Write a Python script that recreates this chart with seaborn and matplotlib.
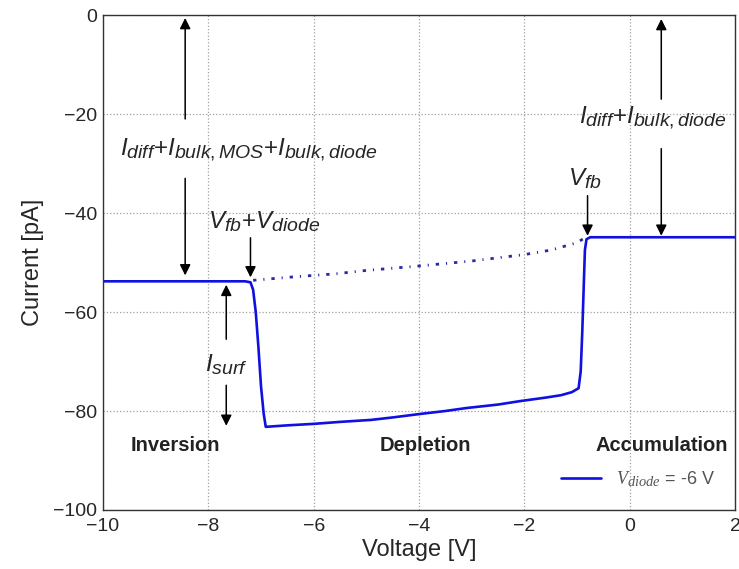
import matplotlib
matplotlib.use("Agg")
import matplotlib.pyplot as plt
import matplotlib._mathtext as _mt
import seaborn as sns
import pandas as pd

# Measured curve (V_diode = -6 V)
voltage = [-10, -7.3, -7.2, -7.15, -7.1, -7.05, -7.0, -6.95, -6.91, -6.5, -6.0, -5.5, -4.91,
           -4.5, -3.98, -3.5, -3.1, -2.5, -2.08, -1.6, -1.3, -1.1, -0.97, -0.93, -0.9,
           -0.87, -0.85, -0.82, -0.75, 0, 2]
current = [-53.8, -53.8, -54.0, -55.5, -60.0, -67.0, -75.0, -80.5, -83.2, -82.9, -82.6, -82.2, -81.8,
           -81.3, -80.6, -80.0, -79.4, -78.7, -78.0, -77.3, -76.8, -76.2, -75.4, -72.0, -64.0,
           -54.0, -47.5, -45.3, -44.9, -44.9, -44.9]

# Ideal (dash-dot) curve without surface current
voltage_ideal = [-7.15, -6.5, -6.0, -5.6, -5.0, -4.0, -3.0, -2.0, -1.5, -1.0, -0.85]
current_ideal = [-53.6, -53.0, -52.6, -52.3, -51.6, -50.7, -49.7, -48.4, -47.5, -46.0, -45.0]

x_ticks = [-10, -8, -6, -4, -2, 0, 2]
y_ticks = [-100, -80, -60, -40, -20, 0]

_mt.SHRINK_FACTOR = 0.8

sns.set_style("white")
plt.rcParams['font.family'] = ['Liberation Sans', 'DejaVu Sans']
plt.rcParams['mathtext.fontset'] = 'custom'
plt.rcParams['mathtext.it'] = 'Liberation Sans:italic'
plt.rcParams['mathtext.rm'] = 'Liberation Sans'
plt.rcParams['mathtext.sf'] = 'Liberation Serif:italic'

fig = plt.figure(figsize=(7.39, 5.69), dpi=100)
ax = fig.add_axes([0.1394, 0.1037, 0.8552, 0.8699])

df = pd.DataFrame({"V": voltage, "I": current})
df2 = pd.DataFrame({"V": voltage_ideal, "I": current_ideal})

sns.lineplot(data=df, x="V", y="I", ax=ax, color="#1010e0", lw=1.9, sort=False,
             label=r"$\mathsf{V_{diode}}$ = -6 V")
sns.lineplot(data=df2, x="V", y="I", ax=ax, color="#2a2aa8", lw=2.0, sort=False,
             linestyle=(0, (1.2, 2.5, 0.4, 2.5)), legend=False)

ax.set_xlim(-10, 2)
ax.set_ylim(-100, 0)
ax.set_xticks(x_ticks)
ax.set_yticks(y_ticks)
ax.tick_params(direction='in', length=5, labelsize=14, color='#333333')
ax.tick_params(axis='x', pad=6)
ax.tick_params(axis='y', pad=4)
ax.grid(True, linestyle=':', color='#a0a0a0', lw=0.9)
for s in ax.spines.values():
    s.set_color('#333333')
    s.set_linewidth(1.0)
ax.set_xlabel("Voltage [V]", fontsize=17, labelpad=3)
ax.set_ylabel("Current [pA]", fontsize=17, labelpad=7)

arrow = dict(arrowstyle='-|>', color='black', lw=1.1, mutation_scale=16, shrinkA=0, shrinkB=0)

# Left big label
ax.text(-9.68, -27.3, r"$I_{diff}$+$I_{bulk,MOS}$+$I_{bulk,diode}$", fontsize=17.5, va='center', ha='left')
ax.annotate("", xy=(-8.44, -0.6), xytext=(-8.44, -21), arrowprops=arrow)
ax.annotate("", xy=(-8.44, -52.6), xytext=(-8.44, -33), arrowprops=arrow)

# Vfb+Vdiode
ax.text(-8.0, -41.8, r"$V_{fb}$+$V_{diode}$", fontsize=17.5, va='center', ha='left')
ax.annotate("", xy=(-7.2, -53.0), xytext=(-7.2, -45), arrowprops=arrow)

# I_surf
ax.text(-7.66, -70.7, r"$I_{surf}$", fontsize=17.5, va='center', ha='center')
ax.annotate("", xy=(-7.66, -54.5), xytext=(-7.66, -65.5), arrowprops=arrow)
ax.annotate("", xy=(-7.66, -83.0), xytext=(-7.66, -74.8), arrowprops=arrow)

# V_fb
ax.text(-0.85, -33.0, r"$V_{fb}$", fontsize=17.5, va='center', ha='center')
ax.annotate("", xy=(-0.8, -44.6), xytext=(-0.8, -36.5), arrowprops=arrow)

# right label
ax.text(-0.97, -20.8, r"$I_{diff}$+$I_{bulk,diode}$", fontsize=17.5, va='center', ha='left')
ax.annotate("", xy=(0.6, -0.8), xytext=(0.6, -17), arrowprops=arrow)
ax.annotate("", xy=(0.6, -44.6), xytext=(0.6, -27), arrowprops=arrow)

# Region labels
ax.text(-8.63, -87.0, "Inversion", fontsize=14.5, fontweight='bold', ha='center', va='center', color='#222222')
ax.text(-3.87, -87.0, "Depletion", fontsize=14.5, fontweight='bold', ha='center', va='center', color='#222222')
ax.text(0.6, -87.0, "Accumulation", fontsize=14.5, fontweight='bold', ha='center', va='center', color='#222222')

leg = ax.legend(loc='lower right', frameon=False, fontsize=13, handlelength=2.2,
                bbox_to_anchor=(0.985, 0.02), borderaxespad=0.2)
for t in leg.get_texts():
    t.set_color('#555555')

fig.savefig("out.png", dpi=100)
